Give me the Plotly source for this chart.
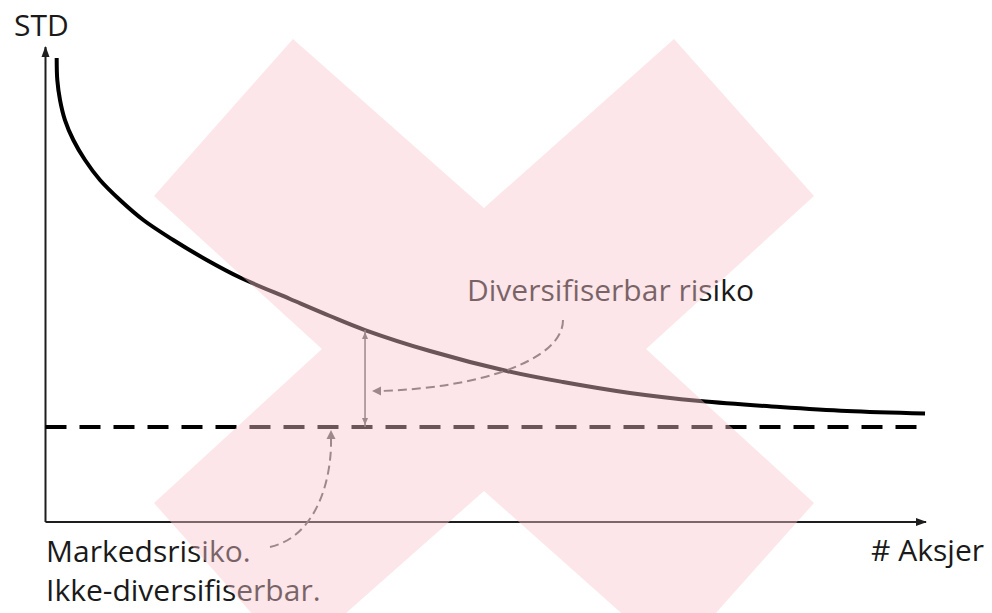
import plotly.graph_objects as go

# ---------------- data ----------------
n_stocks = [1.27, 1.34, 1.65, 2.21, 3.16, 4.49, 6.19, 8.46, 11.11, 14.51,
            18.31, 22.09, 27.77, 32.31, 36.29, 43.67, 52.41, 58.77, 66.38,
            74.33, 83.42, 91.03, 99.89]
portfolio_std = [97.68, 93.05, 88.84, 84.63, 80.42, 76.21, 72.0, 67.79, 63.58,
                 59.37, 55.16, 51.47, 46.95, 43.37, 40.42, 36.0, 31.79, 29.47,
                 27.16, 25.47, 24.21, 23.37, 22.84]
market_risk = 20
x_axis_end = 100
y_axis_end = 100
marker_index = 14                     # where the "diversifiable" gap is marked
y_title = "STD"
x_title = "# Aksjer"
label_diversifiable = "Diversifiserbar risiko"
label_market = ["Markedsrisiko.", "Ikke-diversifiserbar."]

# ---------------- layout geometry (pixel <-> data helpers) ----------------
W, H = 992, 613
X0PX, XS = 45.5, 8.805     # pixel of x=0, pixels per x unit
Y0PX, YS = 522.0, 4.75     # pixel of y=0, pixels per y unit


def dx(px):
    return (px - X0PX) / XS


def dy(py):
    return (Y0PX - py) / YS


def px_x(x):
    return X0PX + x * XS


def px_y(y):
    return Y0PX - y * YS


def P(px, py):
    return f"{dx(px):.4f},{dy(py):.4f}"


def arrowhead(tip, direction, length, half_w, color):
    tx, ty = tip
    ux, uy = direction
    n = (ux * ux + uy * uy) ** 0.5
    ux, uy = ux / n, uy / n
    bx, by = tx - ux * length, ty - uy * length
    pxv, pyv = -uy, ux
    path = (f"M {P(tx, ty)} L {P(bx + pxv * half_w, by + pyv * half_w)} "
            f"L {P(bx - pxv * half_w, by - pyv * half_w)} Z")
    return dict(type="path", xref="x", yref="y", path=path,
                fillcolor=color, line=dict(width=0), layer="above")


AXIS_COL = "#1e1e1e"
GRAY = "#5a5a5a"
FONT = "Open Sans"

fig = go.Figure()

# axes
fig.add_trace(go.Scatter(x=[0, x_axis_end], y=[0, 0], mode="lines",
                         line=dict(color=AXIS_COL, width=2), hoverinfo="skip"))
fig.add_trace(go.Scatter(x=[0, 0], y=[0, y_axis_end], mode="lines",
                         line=dict(color=AXIS_COL, width=2), hoverinfo="skip"))

# market risk (dashed)
fig.add_trace(go.Scatter(x=[0, n_stocks[-1]], y=[market_risk, market_risk],
                         mode="lines",
                         line=dict(color="#000000", width=4, dash="21px,13px"),
                         hoverinfo="skip"))

# portfolio std curve
fig.add_trace(go.Scatter(x=n_stocks, y=portfolio_std, mode="lines",
                         line=dict(color="#000000", width=4, shape="spline",
                                   smoothing=1.0),
                         hoverinfo="skip"))

# vertical gap marker
gx = n_stocks[marker_index]
gy_top = portfolio_std[marker_index]
fig.add_trace(go.Scatter(x=[gx, gx], y=[market_risk, gy_top], mode="lines",
                         line=dict(color=GRAY, width=1.5), hoverinfo="skip"))

# text labels (as traces so the overlay tints them)
txt = dict(family=FONT, size=30, color="#1a1a1a")
fig.add_trace(go.Scatter(x=[dx(14)], y=[dy(28)], mode="text", text=[y_title],
                         textposition="middle right", textfont=txt,
                         hoverinfo="skip"))
fig.add_trace(go.Scatter(x=[dx(984)], y=[dy(553)], mode="text", text=[x_title],
                         textposition="middle left", textfont=txt,
                         hoverinfo="skip"))
fig.add_trace(go.Scatter(x=[dx(467)], y=[dy(293)], mode="text",
                         text=[label_diversifiable],
                         textposition="middle right", textfont=txt,
                         hoverinfo="skip"))
fig.add_trace(go.Scatter(x=[dx(46), dx(46)], y=[dy(554), dy(593)], mode="text",
                         text=label_market,
                         textposition="middle right", textfont=txt,
                         hoverinfo="skip"))

shapes = []
# axis arrowheads
shapes.append(arrowhead((px_x(0), px_y(y_axis_end) - 1), (0, -1), 11, 4, AXIS_COL))
shapes.append(arrowhead((px_x(x_axis_end) + 1, px_y(0)), (1, 0), 11, 4, AXIS_COL))
# gap marker arrowheads
shapes.append(arrowhead((px_x(gx), px_y(gy_top) + 2), (0, -1), 7, 3, GRAY))
shapes.append(arrowhead((px_x(gx), px_y(market_risk) - 2), (0, 1), 7, 3, GRAY))

# curved dashed arrows
dash_line = dict(color=GRAY, width=2, dash="9px,5px")
shapes.append(dict(type="path", xref="x", yref="y", layer="above",
                   path=f"M {P(563, 320)} C {P(563, 360)} {P(480, 388)} {P(380, 391)}",
                   line=dash_line))
shapes.append(arrowhead((372, 391), (-1, 0), 9, 4.5, GRAY))
shapes.append(dict(type="path", xref="x", yref="y", layer="above",
                   path=f"M {P(270, 547)} C {P(315, 537)} {P(332, 482)} {P(331, 438)}",
                   line=dash_line))
shapes.append(arrowhead((331, 430), (0, -1), 9, 4.5, GRAY))

# translucent pink X overlay
xv = [(293, 39), (484, 208), (674, 39), (814, 196), (646, 349), (814, 503),
      (674, 660), (484, 491), (293, 660), (154, 503), (322, 349), (154, 196)]
xpath = "M " + " L ".join(P(a, b) for a, b in xv) + " Z"
shapes.append(dict(type="path", xref="x", yref="y", path=xpath, layer="above",
                   fillcolor="rgba(249,198,205,0.43)", line=dict(width=0)))

fig.update_layout(
    width=W, height=H,
    margin=dict(l=0, r=0, t=0, b=0),
    paper_bgcolor="white", plot_bgcolor="white",
    showlegend=False,
    xaxis=dict(visible=False, range=[dx(0), dx(W)], fixedrange=True),
    yaxis=dict(visible=False, range=[dy(H), dy(0)], fixedrange=True),
    shapes=shapes,
)

fig.write_html("out.html", config={"displayModeBar": False},
               post_script="document.body.style.margin='0';")
